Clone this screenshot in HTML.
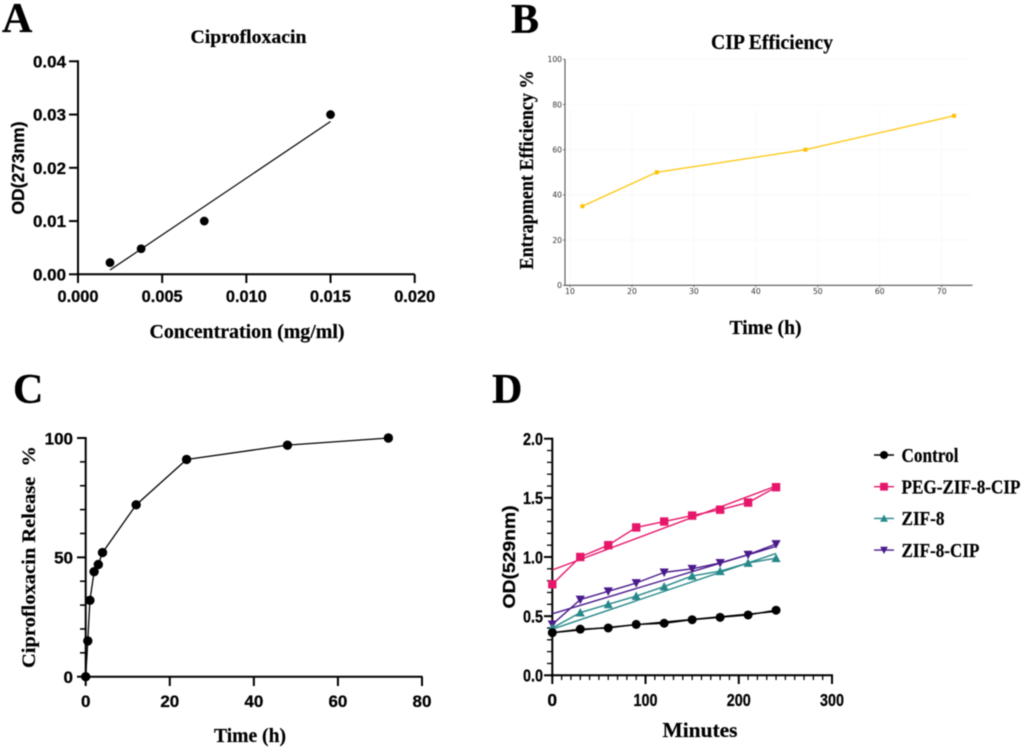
<!DOCTYPE html>
<html lang="en">
<head>
<meta charset="utf-8">
<title>Ciprofloxacin figure</title>
<style>
html,body{margin:0;padding:0;background:#fff;width:1024px;height:747px;overflow:hidden}
svg{display:block;filter:blur(0.45px)}
.panel{font-family:"Liberation Serif",serif;font-weight:bold;font-size:42px;fill:#000;stroke:#000;stroke-width:.3}
.title{font-family:"Liberation Serif",serif;font-weight:bold;fill:#000;stroke:#000;stroke-width:.2}
.sans{font-family:"Liberation Sans",sans-serif;font-weight:bold;fill:#000;stroke:#000;stroke-width:.25}
</style>
</head>
<body>
<svg id="fig" xmlns="http://www.w3.org/2000/svg" width="1024" height="747" viewBox="0 0 1024 747">
  <rect width="1024" height="747" fill="#fff"/>
  <text class="panel" x="2" y="32">A</text>
  <text class="panel" x="511" y="33">B</text>
  <text class="panel" x="13" y="403">C</text>
  <text class="panel" x="492" y="403">D</text>

  <g id="chart-a">
    <text class="title" x="248.5" y="43" font-size="18.5" text-anchor="middle" textLength="116" lengthAdjust="spacingAndGlyphs">Ciprofloxacin</text>
    <text class="title" x="247" y="338" font-size="20" text-anchor="middle" textLength="195" lengthAdjust="spacingAndGlyphs">Concentration (mg/ml)</text>
    <text class="sans" transform="translate(24 168) rotate(-90)" font-size="17.4" text-anchor="middle" textLength="93" lengthAdjust="spacingAndGlyphs">OD(273nm)</text>
  </g>

  <g id="chart-b">
    <text class="title" x="772" y="49" font-size="21" text-anchor="middle" textLength="122" lengthAdjust="spacingAndGlyphs">CIP Efficiency</text>
    <text class="title" x="765.5" y="334" font-size="20.5" text-anchor="middle" textLength="72" lengthAdjust="spacingAndGlyphs">Time (h)</text>
    <text class="title" transform="translate(533 170) rotate(-90)" font-size="20.5" text-anchor="middle" textLength="199" lengthAdjust="spacingAndGlyphs">Entrapment Efficiency %</text>
  </g>

  <g id="chart-c">
    <text class="title" x="250" y="742" font-size="20" text-anchor="middle" textLength="72" lengthAdjust="spacingAndGlyphs">Time (h)</text>
    <text class="title" transform="translate(35 557) rotate(-90)" font-size="18.5" text-anchor="middle" textLength="222" lengthAdjust="spacingAndGlyphs" style="white-space:pre">Ciprofloxacin Release  %</text>
  </g>

  <g id="chart-d">
    <text class="title" x="700" y="737" font-size="21.4" text-anchor="middle" textLength="75" lengthAdjust="spacingAndGlyphs">Minutes</text>
    <text class="sans" transform="translate(515 557) rotate(-90)" font-size="17.5" text-anchor="middle" textLength="103" lengthAdjust="spacingAndGlyphs">OD(529nm)</text>
  </g>
  <g id="legend"></g>
</svg>
<script>
// Chart A data
const aConcentration = [0.0019, 0.00375, 0.0075, 0.015];
const aOD = [0.0022, 0.0048, 0.01, 0.03];
const aFitX = [0.0019, 0.015];
const aFitY = [0.0008, 0.0287];
const aXTicks = ['0.000', '0.005', '0.010', '0.015', '0.020'];
const aYTicks = ['0.00', '0.01', '0.02', '0.03', '0.04'];

// Chart B data
const bHours = [12, 24, 48, 72];
const bEfficiency = [35, 50, 60, 75];
const bXTicks = ['10', '20', '30', '40', '50', '60', '70'];
const bYTicks = ['0', '20', '40', '60', '80', '100'];

// Chart C data
const cHours = [0, 0.5, 1, 2, 3, 4, 12, 24, 48, 72];
const cRelease = [0, 15, 32, 44, 47, 52, 72, 91, 97, 100];
const cXTicks = ['0', '20', '40', '60', '80'];
const cYTicks = ['0', '50', '100'];
const cYMinor = [10, 20, 30, 40, 60, 70, 80, 90];

// Chart D data
const dMinutes = [0, 30, 60, 90, 120, 150, 180, 210, 240];
const dControl = [0.36, 0.39, 0.40, 0.43, 0.44, 0.47, 0.49, 0.51, 0.55];
const dPeg = [0.77, 1.00, 1.10, 1.25, 1.30, 1.35, 1.40, 1.46, 1.59];
const dZif = [0.40, 0.53, 0.60, 0.67, 0.75, 0.84, 0.88, 0.95, 0.99];
const dZifCip = [0.43, 0.64, 0.71, 0.78, 0.87, 0.90, 0.95, 1.02, 1.11];
const dFitMinutes = [0, 240];
const dControlFit = [0.36, 0.54];
const dPegFit = [0.89, 1.60];
const dZifFit = [0.39, 1.03];
const dZifCipFit = [0.52, 1.09];
const dXTicks = ['0', '100', '200', '300'];
const dYTicks = ['0.0', '0.5', '1.0', '1.5', '2.0'];
const dXMinor = [10, 20, 30, 40, 50, 60, 70, 80, 90, 110, 120, 130, 140, 150, 160, 170, 180, 190, 210, 220, 230, 240, 250, 260, 270, 280, 290];
const dYMinor = [0.1, 0.2, 0.3, 0.4, 0.6, 0.7, 0.8, 0.9, 1.1, 1.2, 1.3, 1.4, 1.6, 1.7, 1.8, 1.9];
const seriesNames = ['Control', 'PEG-ZIF-8-CIP', 'ZIF-8', 'ZIF-8-CIP'];

const NS = 'http://www.w3.org/2000/svg';
function scale(d0, d1, r0, r1) { return v => r0 + (v - d0) / (d1 - d0) * (r1 - r0); }
function make(parent, tag, attrs) {
  const el = document.createElementNS(NS, tag);
  for (const k in attrs) el.setAttribute(k, attrs[k]);
  parent.appendChild(el);
  return el;
}
function seg(parent, x1, y1, x2, y2, color, w, name) {
  const el = make(parent, 'line', {x1, y1, x2, y2, stroke: color, 'stroke-width': w});
  
  
  return el;
}
function label(parent, str, x, y, anchor, size, cls, color, family, fit, name) {
  const el = make(parent, 'text', {x, y, 'text-anchor': anchor, 'font-size': size});
  if (cls) el.setAttribute('class', cls);
  if (color) el.setAttribute('fill', color);
  if (family) el.setAttribute('font-family', family);
  if (fit) { el.setAttribute('textLength', fit); el.setAttribute('lengthAdjust', 'spacingAndGlyphs'); }
  el.textContent = str;
  
  
  return el;
}
function polyline(parent, xs, ys, sx, sy, color, w, name) {
  const pts = xs.map((x, i) => sx(x).toFixed(2) + ',' + sy(ys[i]).toFixed(2)).join(' ');
  const el = make(parent, 'polyline', {points: pts, fill: 'none', stroke: color, 'stroke-width': w, 'stroke-linejoin': 'round'});
  
  
  return el;
}
function marker(parent, shape, x, y, s, color, name) {
  let el;
  if (shape === 'circle') el = make(parent, 'circle', {cx: x, cy: y, r: s, fill: color});
  else if (shape === 'square') el = make(parent, 'rect', {x: x - s, y: y - s, width: 2 * s, height: 2 * s, fill: color});
  else if (shape === 'up') el = make(parent, 'polygon', {points: `${x},${y - s} ${x + s},${y + s * 0.85} ${x - s},${y + s * 0.85}`, fill: color});
  else el = make(parent, 'polygon', {points: `${x},${y + s} ${x + s},${y - s * 0.85} ${x - s},${y - s * 0.85}`, fill: color});
  
  
  return el;
}

/* ---------- Chart A ---------- */
(function () {
  const g = document.getElementById('chart-a');
  const sx = scale(0, 0.02, 78, 414.7), sy = scale(0, 0.04, 274.3, 61.3);
  seg(g, 78, 60.3, 78, 275.3, '#000', 2, 'y-axis-line');
  seg(g, 77, 274.3, 414.7, 274.3, '#000', 2, 'x-axis-line');
  aXTicks.forEach(t => {
    const x = sx(parseFloat(t));
    seg(g, x, 274.3, x, 283, '#000', 2, 'x-tick');
    label(g, t, x, 302, 'middle', 16.6, 'sans', null, null, 41, 'x-tick-label');
  });
  aYTicks.forEach(t => {
    const y = sy(parseFloat(t));
    seg(g, 69, y, 78, y, '#000', 2, 'y-tick');
    label(g, t, 66, y + 6, 'end', 17, 'sans', null, null, 33, 'y-tick-label');
  });
  polyline(g, aFitX, aFitY, sx, sy, '#000', 1.2, 'regression-line');
  aConcentration.forEach((c, i) => marker(g, 'circle', sx(c), sy(aOD[i]), 4.4, '#000', 'data-point'));
})();

/* ---------- Chart B ---------- */
(function () {
  const g = document.getElementById('chart-b');
  const sx = scale(10, 70, 570, 941.7), sy = scale(0, 100, 285.3, 59.3);
  bXTicks.forEach(t => {
    const x = sx(+t);
    seg(g, x, 110, x, 285, '#f8f8f8', 0.8, 'x-grid-line');
  });
  bYTicks.forEach(t => {
    const y = sy(+t);
    seg(g, 565, y, 972, y, '#f8f8f8', 0.8, 'y-grid-line');
  });
  seg(g, 565, 59, 565, 286, '#555', 1.1, 'y-axis-line');
  seg(g, 565, 285.3, 972.5, 285.3, '#555', 1.1, 'x-axis-line');
  bXTicks.forEach(t => {
    const x = sx(+t);
    seg(g, x, 285.3, x, 287.3, '#555', 0.8, 'x-tick');
    label(g, t, x, 294, 'middle', 7.6, null, '#333', '"DejaVu Sans",sans-serif', null, 'x-tick-label');
  });
  bYTicks.forEach(t => {
    const y = sy(+t);
    seg(g, 563, y, 565, y, '#555', 0.8, 'y-tick');
    label(g, t, 562, y + 2.8, 'end', 7.6, null, '#333', '"DejaVu Sans",sans-serif', null, 'y-tick-label');
  });
  polyline(g, bHours, bEfficiency, sx, sy, '#FFC91A', 1.4, 'efficiency-line');
  bHours.forEach((h, i) => marker(g, 'square', sx(h), sy(bEfficiency[i]), 2, '#FFC000', 'data-point'));
})();

/* ---------- Chart C ---------- */
(function () {
  const g = document.getElementById('chart-c');
  const sx = scale(0, 80, 85.7, 422), sy = scale(0, 100, 676.7, 438);
  seg(g, 85.7, 437, 85.7, 678, '#000', 2, 'y-axis-line');
  seg(g, 85, 676.7, 422.5, 676.7, '#000', 2, 'x-axis-line');
  cXTicks.forEach(t => {
    const x = sx(+t);
    seg(g, x, 676.7, x, 686, '#000', 2, 'x-tick');
    label(g, t, x, 707, 'middle', 17, 'sans', null, null, null, 'x-tick-label');
  });
  cYTicks.forEach(t => {
    const y = sy(+t);
    seg(g, 77, y, 85.7, y, '#000', 2, 'y-tick');
    label(g, t, 73, y + 6.3, 'end', 17, 'sans', null, null, null, 'y-tick-label');
  });
  cYMinor.forEach(v => {
    const y = sy(v);
    seg(g, 80, y, 85.7, y, '#000', 1.6, 'y-minor-tick');
  });
  polyline(g, cHours, cRelease, sx, sy, '#000', 1.3, 'release-line');
  cHours.forEach((h, i) => marker(g, 'circle', sx(h), sy(cRelease[i]), 4.7, '#000', 'data-point'));
})();

/* ---------- Chart D ---------- */
(function () {
  const g = document.getElementById('chart-d');
  const sx = scale(0, 300, 552.3, 832), sy = scale(0, 2, 675.3, 438.7);
  seg(g, 552.3, 437.7, 552.3, 676.5, '#000', 2, 'y-axis-line');
  seg(g, 551, 675.3, 833, 675.3, '#000', 2, 'x-axis-line');
  dXTicks.forEach(t => {
    const x = sx(+t);
    seg(g, x, 675.3, x, 684, '#000', 2, 'x-tick');
    const fit = t.length === 3 ? 24 : null;
    label(g, t, x, 706, 'middle', 17.5, 'sans', null, null, fit, 'x-tick-label');
  });
  dYTicks.forEach(t => {
    const y = sy(+t);
    seg(g, 544, y, 552.3, y, '#000', 2, 'y-tick');
    label(g, t, 543, y + 6.3, 'end', 17.5, 'sans', null, null, 20, 'y-tick-label');
  });
  dXMinor.forEach(v => {
    const x = sx(v);
    seg(g, x, 675.3, x, 680, '#000', 1.3, 'x-minor-tick');
  });
  dYMinor.forEach(v => {
    const y = sy(v);
    seg(g, 547, y, 552.3, y, '#000', 1.3, 'y-minor-tick');
  });
  const colors = ['#000000', '#E6176B', '#27888A', '#4A1A8C'];
  const shapes = ['circle', 'square', 'up', 'down'];
  const sizes = [4.5, 4.2, 4.6, 4.6];
  const values = [dControl, dPeg, dZif, dZifCip];
  const fits = [dControlFit, dPegFit, dZifFit, dZifCipFit];
  [3, 2, 0, 1].forEach(k => {
    polyline(g, dFitMinutes, fits[k], sx, sy, colors[k], 1.4, 'fit-line-' + seriesNames[k].toLowerCase());
    polyline(g, dMinutes, values[k], sx, sy, colors[k], 1.4, 'data-line-' + seriesNames[k].toLowerCase());
    dMinutes.forEach((m, i) => marker(g, shapes[k], sx(m), sy(values[k][i]), sizes[k], colors[k], 'point-' + seriesNames[k].toLowerCase()));
  });

  /* legend */
  const lg = document.getElementById('legend');
  const widths = [57, 119, 43, 78];
  seriesNames.forEach((name, k) => {
    const y = 455 + k * 31.7;
    seg(lg, 874, y, 894, y, colors[k], 1.4, 'legend-line');
    marker(lg, shapes[k], 884, y, k === 0 ? 4 : 3.9, colors[k], 'legend-marker');
    label(lg, name, 901.5, y + 6.8, 'start', 20, 'title', null, null, widths[k], 'legend-entry');
  });
})();
</script>
</body>
</html>
